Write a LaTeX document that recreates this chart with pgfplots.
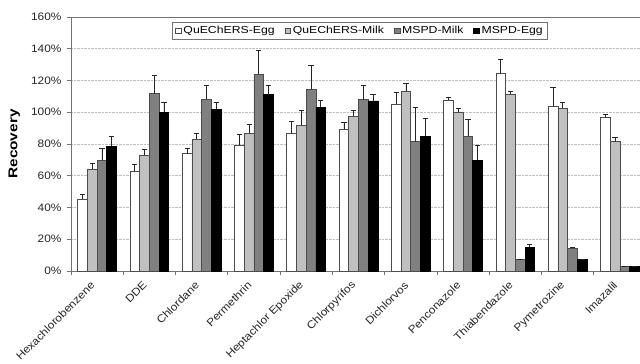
\documentclass[border=0pt]{standalone}
\usepackage{fontspec}
\setmainfont{Liberation Sans}
\newfontfamily\tickfont[FakeStretch=1.1]{Liberation Sans}
\newfontfamily\legfont[FakeStretch=1.2]{Liberation Sans}
\newfontfamily\labfont[FakeStretch=1.2]{Liberation Sans}
\usepackage{pgfplots}
\pgfplotsset{compat=1.18}
\usepackage{pgfplotstable}
\definecolor{lgray}{HTML}{C0C0C0}
\definecolor{mgray}{HTML}{808080}

\pgfplotstableread{
x y e
0 45.4 2.6
1 62.7 4.7
2 73.9 3.3
3 79.1 6.8
4 86.7 7.5
5 89.2 4.2
6 105.0 7.5
7 107.5 1.9
8 124.3 8.8
9 103.7 12.0
10 97.0 1.7
}\qegg
\pgfplotstableread{
x y e
0 64.3 3.7
1 72.8 3.8
2 82.9 3.8
3 86.7 5.9
4 91.7 9.7
5 97.4 4.0
6 113.4 4.8
7 100.2 2.3
8 111.2 2.2
9 102.4 4.1
10 81.4 3.0
}\qmilk
\pgfplotstableread{
x y e
0 69.7 7.5
1 111.7 11.3
2 108.3 8.6
3 123.8 15.2
4 114.6 14.9
5 107.9 9.1
6 81.4 21.5
7 85.0 10.3
8 7.1 0.0
9 14.3 0.6
10 2.7 0.0
}\mmilk
\pgfplotstableread{
x y e
0 78.5 6.5
1 99.9 6.6
2 101.8 4.2
3 111.0 6.0
4 103.3 4.4
5 107.1 4.1
6 85.0 11.4
7 69.7 9.4
8 14.9 1.7
9 7.1 0.4
10 2.7 0.0
}\megg

\begin{document}
\begin{tikzpicture}
\begin{axis}[name=ax, scale only axis, width=569pt, height=254pt,
  xmin=-0.5, xmax=10.385, ymin=0, ymax=160,
  ybar=0pt, bar width=9.7pt,
  axis x line*=bottom, axis y line*=left,
  axis line style={draw=black!55, line width=0.8pt, -},
  tick align=outside,
  major tick length=4pt,
  tick style={draw=black!55, line width=0.8pt},
  xtick={-0.5,0.5,...,9.5}, xticklabels={},
  extra x ticks={0,1,2,3,4,5,6,7,8,9,10},
  extra x tick labels={Hexachlorobenzene,DDE,Chlordane,Permethrin,Heptachlor Epoxide,Chlorpyrifos,Dichlorvos,Penconazole,Thiabendazole,Pymetrozine,Imazalil},
  extra x tick style={major tick length=0pt, grid=none,
    xticklabel style={xshift=-2pt, yshift=-10pt, rotate=45, anchor=east, font=\tickfont\fontsize{10.8}{13}\selectfont, text=black!85}},
  ytick={0,20,...,160},
  yticklabel={\pgfmathprintnumber{\tick}\%},
  /pgf/number format/assume math mode=true,
  yticklabel style={font=\tickfont\fontsize{10.8}{12}\selectfont, text=black!85, xshift=-2pt},
  ymajorgrids, grid style={densely dotted, black!25, line width=0.6pt},
  ylabel={Recovery},
  ylabel style={at={(axis description cs:-0.0835,0.5)}, anchor=south, font=\labfont\bfseries\fontsize{12.8}{14}\selectfont},
  error bars/y dir=plus, error bars/y explicit,
  error bars/error mark options={rotate=90, mark size=2.6pt, black!85, line width=0.8pt},
  error bars/error bar style={black!85, line width=0.8pt},
  legend columns=-1,
  legend style={at={(0.508,1)}, anchor=north, yshift=-5pt, draw=black!55, line width=0.8pt,
    font=\legfont\fontsize{10.2}{12}\selectfont, inner ysep=2pt, inner xsep=3pt,
    /tikz/every even column/.append style={column sep=8pt}},
  sq/.style={legend image code/.code={\draw[##1, line width=0.6pt] (0pt,-2.8pt) rectangle (5.6pt,2.8pt);}},
]
\addplot[fill=white, draw=black!70, line width=0.7pt, sq] table[x=x, y=y, y error=e]{\qegg};
\addplot[fill=lgray, draw=black!70, line width=0.7pt, sq] table[x=x, y=y, y error=e]{\qmilk};
\addplot[fill=mgray, draw=black!70, line width=0.7pt, sq] table[x=x, y=y, y error=e]{\mmilk};
\addplot[fill=black, draw=black, line width=0.7pt, sq] table[x=x, y=y, y error=e]{\megg};
\legend{QuEChERS-Egg, QuEChERS-Milk, MSPD-Milk, MSPD-Egg}
\end{axis}
\draw[black!55, line width=0.8pt] (ax.north west) -- (ax.north east);
\pgfresetboundingbox
\path[use as bounding box] ([xshift=-71pt,yshift=-93pt]ax.south west) rectangle ([yshift=17pt]ax.north east);
\end{tikzpicture}
\end{document}
